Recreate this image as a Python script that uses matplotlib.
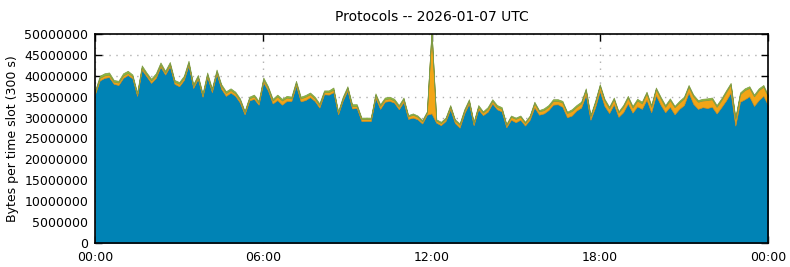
import numpy as np
import matplotlib
matplotlib.use("Agg")
from matplotlib import pyplot as plt

# stack top per 10-minute slot, in millions of bytes
total = [36.5, 40.0, 40.6, 40.8, 39.0, 38.8, 40.6, 41.2, 40.3, 36.0, 42.5, 40.8, 39.3,
         40.6, 43.2, 41.2, 43.3, 39.0, 38.5, 40.0, 43.6, 38.0, 40.2, 35.8, 40.8,
         37.0, 41.5, 38.0, 36.3, 37.0, 36.2, 34.6, 31.6, 35.0, 35.5, 34.0, 39.6,
         37.5, 34.5, 35.5, 34.5, 35.2, 35.0, 38.8, 35.0, 35.4, 36.0, 35.0, 33.4,
         36.5, 36.5, 37.2, 31.5, 35.0, 37.5, 33.2, 33.2, 30.0, 30.0, 30.0, 35.8,
         33.2, 34.8, 35.0, 34.5, 33.0, 34.8, 30.6, 31.0, 30.5, 29.4, 31.5, 51.0,
         29.6, 29.0, 30.0, 33.0, 29.6, 28.6, 32.0, 34.4, 29.0, 33.0, 31.5, 32.5,
         34.4, 33.0, 32.5, 28.5, 30.5, 30.0, 30.5, 29.0, 30.5, 33.8, 31.8, 32.2,
         33.0, 34.4, 34.4, 34.0, 31.4, 32.0, 33.0, 33.8, 37.0, 30.6, 34.0, 38.0,
         34.5, 32.6, 34.8, 31.5, 33.0, 35.2, 32.8, 34.5, 33.8, 36.2, 33.0, 37.2,
         35.0, 33.0, 34.6, 32.8, 34.0, 35.0, 37.8, 35.5, 34.2, 34.5, 34.6, 34.8,
         33.0, 34.6, 36.5, 38.3, 30.0, 36.0, 37.0, 37.5, 35.5, 37.0, 37.8, 35.4]

orange = [0.4, 0.6, 0.6, 0.6, 0.5, 0.6, 0.6, 0.5, 0.5, 0.4, 0.5, 0.5, 0.6,
          0.6, 0.5, 0.5, 0.5, 0.5, 0.6, 0.6, 0.5, 0.5, 0.5, 0.4, 0.5,
          0.5, 0.5, 0.7, 0.7, 0.6, 0.6, 0.6, 0.5, 0.5, 0.6, 0.5, 0.6,
          0.6, 0.7, 0.9, 1.0, 0.8, 0.6, 0.6, 0.7, 0.8, 0.7, 0.6, 0.6,
          0.5, 0.6, 0.6, 0.4, 0.5, 0.6, 0.6, 0.5, 0.5, 0.5, 0.5, 0.6,
          0.7, 0.6, 0.6, 0.5, 0.6, 0.6, 0.6, 0.7, 0.6, 0.5, 0.5, 19.6,
          0.5, 0.5, 0.5, 0.6, 0.6, 0.7, 0.6, 0.6, 0.5, 0.6, 0.6, 0.7,
          0.6, 0.6, 0.6, 0.5, 0.7, 0.8, 0.7, 0.6, 0.7, 0.9, 0.8, 0.8,
          0.8, 0.9, 0.8, 1.0, 1.0, 1.1, 0.9, 1.0, 1.1, 0.8, 1.1, 1.2,
          1.3, 1.1, 1.2, 1.0, 1.3, 1.4, 1.2, 1.4, 1.3, 1.5, 1.3, 1.4,
          1.5, 1.3, 1.6, 1.7, 1.5, 1.6, 1.4, 1.8, 1.7, 1.6, 1.9, 1.8,
          1.6, 1.7, 2.0, 1.9, 1.6, 1.8, 2.2, 2.0, 2.3, 2.4, 2.2, 2.0]

green = [0.4, 0.5, 0.5, 0.5, 0.4, 0.4, 0.5, 0.5, 0.4, 0.4, 0.5, 0.4, 0.4,
         0.5, 0.5, 0.4, 0.5, 0.4, 0.4, 0.4, 0.5, 0.4, 0.4, 0.4, 0.5,
         0.4, 0.5, 0.4, 0.4, 0.4, 0.4, 0.4, 0.3, 0.4, 0.4, 0.4, 0.5,
         0.4, 0.4, 0.4, 0.4, 0.4, 0.4, 0.5, 0.4, 0.4, 0.4, 0.4, 0.4,
         0.4, 0.4, 0.5, 0.3, 0.4, 0.4, 0.4, 0.4, 0.3, 0.3, 0.3, 0.4,
         0.4, 0.4, 0.4, 0.4, 0.4, 0.4, 0.3, 0.3, 0.3, 0.3, 0.3, 0.4,
         0.3, 0.3, 0.3, 0.4, 0.3, 0.3, 0.4, 0.4, 0.3, 0.4, 0.3, 0.4,
         0.4, 0.4, 0.4, 0.3, 0.3, 0.3, 0.3, 0.3, 0.3, 0.4, 0.3, 0.4,
         0.4, 0.4, 0.4, 0.4, 0.3, 0.4, 0.4, 0.4, 0.4, 0.3, 0.4, 0.4,
         0.4, 0.4, 0.4, 0.3, 0.4, 0.4, 0.4, 0.4, 0.4, 0.4, 0.4, 0.4,
         0.4, 0.4, 0.4, 0.3, 0.4, 0.4, 0.4, 0.4, 0.4, 0.4, 0.4, 0.4,
         0.4, 0.4, 0.4, 0.4, 0.3, 0.4, 0.4, 0.4, 0.4, 0.4, 0.4, 0.4]

tick_hours = [0, 6, 12, 18, 24]
tick_labels = ["00:00", "06:00", "12:00", "18:00", "00:00"]

hours = np.arange(len(total)) / 6.0
orange = np.array(orange) * 1e6
green = np.array(green) * 1e6
blue = np.array(total) * 1e6 - orange - green

fig = plt.figure(figsize=(7.9, 2.67), dpi=100)
ax = fig.add_axes([0.1203, 0.0899, 0.8519, 0.7828])

layers = ax.stackplot(hours, blue, orange, green,
                      colors=["#0083b5", "#f2a516", "#8cbc3a"], zorder=2)
for poly, ec in zip(layers, ["#3c6f86", "#c99020", "#7f9a45"]):
    poly.set_edgecolor(ec)
    poly.set_linewidth(0.5)

ax.set_xlim(0, 24)
ax.set_ylim(0, 50e6)
ax.set_xticks(tick_hours)
ax.set_xticklabels(tick_labels)
ax.set_yticks(np.arange(0, 50e6 + 1, 5e6))
ax.set_yticklabels([str(int(v)) for v in np.arange(0, 50e6 + 1, 5e6)])
ax.tick_params(direction="in", top=True, right=True, length=5, width=1,
               labelsize=9)
ax.tick_params(axis="x", pad=6)
ax.tick_params(axis="y", pad=5)
ax.grid(True, color="#b0b0b0", linestyle=(0, (1, 4)), linewidth=1, zorder=0)
ax.set_axisbelow(True)
for s in ax.spines.values():
    s.set_linewidth(1.2)
    s.set_zorder(5)

ax.set_ylabel("Bytes per time slot (300 s)", fontsize=9)
ax.set_title("Protocols -- 2026-01-07 UTC", fontsize=10, pad=9)

fig.savefig("out.png", dpi=100)
